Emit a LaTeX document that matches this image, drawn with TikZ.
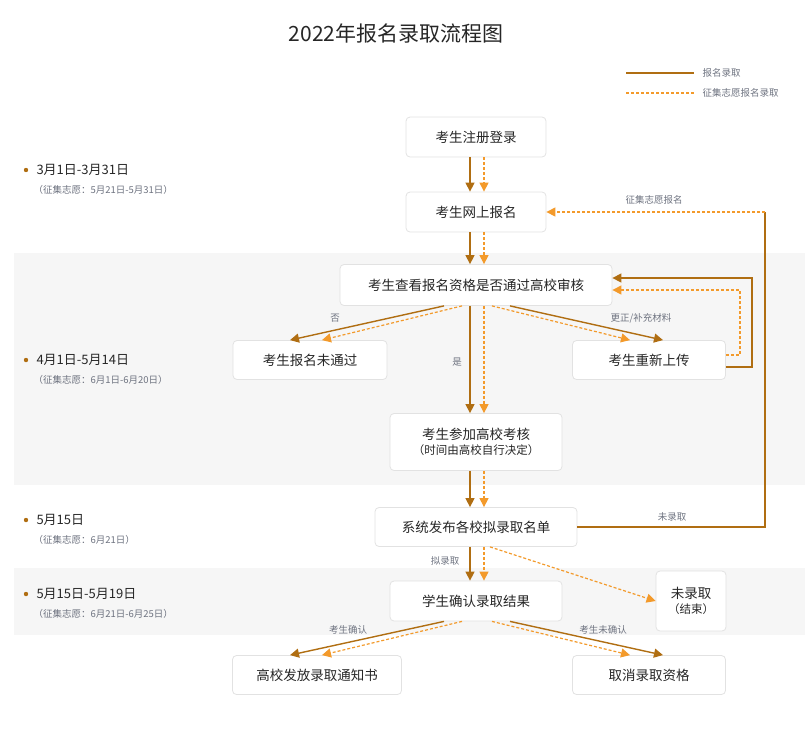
\documentclass[tikz,border=0pt]{standalone}
\usepackage{fontspec}
\setmainfont{Noto Sans CJK SC}
\usetikzlibrary{arrows.meta}
\definecolor{solidc}{HTML}{B06E12}
\definecolor{dashc}{HTML}{F39A2B}
\definecolor{bandc}{HTML}{F6F6F6}
\definecolor{boxline}{HTML}{E2E2E2}
\definecolor{lbl}{HTML}{6E7380}
\begin{document}
\begin{tikzpicture}[x=1pt,y=-1pt,
  box/.style={draw=boxline,line width=0.8pt,fill=white,rounded corners=4pt,font=\fontsize{13.5}{16}\selectfont,text=black!85,align=center,inner sep=0pt},
  sol/.style={draw=solidc,line width=1.4pt,-{Triangle[length=9pt,width=9pt]}},
  dsh/.style={draw=dashc,line width=1.2pt,dash pattern=on 3pt off 2pt,-{Triangle[length=9pt,width=9pt]}},
  lab/.style={font=\fontsize{9.5}{11}\selectfont,text=lbl},
  date/.style={font=\fontsize{13}{15}\selectfont,text=black!85,anchor=west},
  sub/.style={font=\fontsize{9.5}{11}\selectfont,text=lbl,anchor=west}]
\useasboundingbox (0,0) rectangle (810,742);
\fill[bandc] (14,253) rectangle (805,485);
\fill[bandc] (14,568) rectangle (805,635);
\node[font=\fontsize{21}{24}\selectfont,text=black!85] (title) at (396,33) {2022年报名录取流程图};
% legend
\coordinate (l1a) at (626,73); \coordinate (l1b) at (694,73);
\coordinate (l2a) at (626,93); \coordinate (l2b) at (694,93);
\draw[solidc,line width=1.4pt] (l1a)--(l1b);
\draw[dashc,line width=1.2pt,dash pattern=on 3pt off 2pt] (l2a)--(l2b);
\node[lab,anchor=west] (lg1) at (699,73) {报名录取};
\node[lab,anchor=west] (lg2) at (699,93) {征集志愿报名录取};
% dates
\foreach \y/\a/\b in {170/3月1日-3月31日/（征集志愿：5月21日-5月31日）,360/4月1日-5月14日/（征集志愿：6月1日-6月20日）,520/5月15日/（征集志愿：6月21日）,594/5月15日-5月19日/（征集志愿：6月21日-6月25日）}{
  \fill[solidc] (26,\y) circle (2.2pt);
  \node[date] at (33,\y) {\a};
  \node[sub] at (30,\y+20) {\b};
}
% nodes
\node[box,minimum width=140pt,minimum height=40pt] (reg) at (476,137) {考生注册登录};
\node[box,minimum width=140pt,minimum height=40pt] (web) at (476,212) {考生网上报名};
\node[box,minimum width=272pt,minimum height=41pt] (chk) at (476,285) {考生查看报名资格是否通过高校审核};
\node[box,minimum width=154pt,minimum height=39pt] (fail) at (310,360) {考生报名未通过};
\node[box,minimum width=153pt,minimum height=39pt] (up) at (649,360) {考生重新上传};
\node[box,minimum width=172pt,minimum height=57pt] (exam) at (476,442) {考生参加高校考核\\[-1pt]{\fontsize{11.5}{14}\selectfont（时间由高校自行决定）}};
\node[box,minimum width=202pt,minimum height=39pt] (pub) at (476,527) {系统发布各校拟录取名单};
\node[box,minimum width=172pt,minimum height=40pt] (conf) at (476,601) {学生确认录取结果};
\node[box,minimum width=70pt,minimum height=60pt] (no) at (691,601) {未录取\\[-1pt]{\fontsize{11.5}{14}\selectfont（结束）}};
\node[box,minimum width=169pt,minimum height=39pt] (notice) at (317,675) {高校发放录取通知书};
\node[box,minimum width=153pt,minimum height=39pt] (cancel) at (649,675) {取消录取资格};
% vertical pairs
\foreach \a/\b in {reg/web,web/chk,chk/exam,exam/pub,pub/conf}{
  \draw[sol] ([xshift=-6pt]\a.south) -- ([xshift=-6pt]\b.north);
  \draw[dsh] ([xshift=8pt]\a.south) -- ([xshift=8pt]\b.north);
}
% diagonals from chk
\draw[sol] ([xshift=-32pt]chk.south) -- ([xshift=-20pt]fail.north);
\draw[dsh] ([xshift=-14pt]chk.south) -- ([xshift=12pt]fail.north);
\draw[sol] ([xshift=34pt]chk.south) -- ([xshift=14pt]up.north);
\draw[dsh] ([xshift=16pt]chk.south) -- ([xshift=-19pt]up.north);
\node[lab] at (335,318) {否};
\node[lab] at (641,318) {更正/补充材料};
\node[lab] at (457,362) {是};
% feedback loop
\draw[sol] ([yshift=-7pt]up.east) -- ++(26,0) |- ([yshift=7pt]chk.east);
\draw[dsh] ([yshift=5pt]up.east) -- ++(14,0) |- ([yshift=-5pt]chk.east);
% big loop
\coordinate (corner) at (765,212);
\draw[solidc,line width=1.4pt] (pub.east) -| (corner);
\draw[dsh] (corner) -- (web.east);
\node[lab] at (654,200) {征集志愿报名};
\node[lab] at (672,517) {未录取};
% pub -> no
\draw[dsh] ([xshift=14pt]pub.south) -- (no.west);
\node[lab] at (445,561) {拟录取};
% diagonals from conf
\draw[sol] ([xshift=-32pt]conf.south) -- ([xshift=-27pt]notice.north);
\draw[dsh] ([xshift=-14pt]conf.south) -- ([xshift=5pt]notice.north);
\draw[sol] ([xshift=34pt]conf.south) -- ([xshift=14pt]cancel.north);
\draw[dsh] ([xshift=16pt]conf.south) -- ([xshift=-19pt]cancel.north);
\node[lab] at (348,630) {考生确认};
\node[lab] at (603,630) {考生未确认};
\end{tikzpicture}
\end{document}
